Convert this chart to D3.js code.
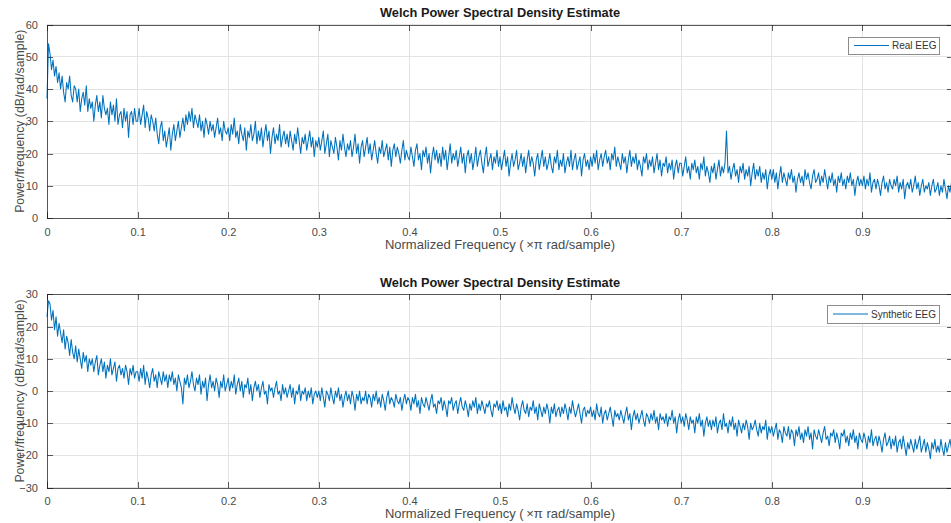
<!DOCTYPE html>
<html><head><meta charset="utf-8">
<script src="https://cdn.jsdelivr.net/npm/d3@7"></script>
<style>body{margin:0;background:#fff}svg{display:block;font-family:"Liberation Sans",Arial,sans-serif}</style>
</head><body>
<svg id="c" width="951" height="523"></svg>
<script>
const xTicks = [0, 0.1, 0.2, 0.3, 0.4, 0.5, 0.6, 0.7, 0.8, 0.9, 1];
const xTickLabels = ["0", "0.1", "0.2", "0.3", "0.4", "0.5", "0.6", "0.7", "0.8", "0.9", ""];
const yTicksReal = [0, 10, 20, 30, 40, 50, 60];
const yTicksSynth = [-30, -20, -10, 0, 10, 20, 30];
const titles = ["Welch Power Spectral Density Estimate", "Welch Power Spectral Density Estimate"];
const legendNames = ["Real EEG", "Synthetic EEG"];
const xLabel = "Normalized Frequency  (\u2009\u00d7\u03c0 rad/sample)";
const yLabel = "Power/frequency (dB/rad/sample)";

// PSD values (dB) sampled every 1/600 of normalized frequency
const realEEG = [
37,54,51,46,49,44,47,42,45,40, 44,39,36,42,40,44,38,36,41,40, 36,40,33,37,39,35,41,33,37,34, 36,30,35,38,33,36,31,38,34,32, 34,29,36,32,35,30,37,29,32,33, 28,34,30,33,25,32,33,29,34,30,
30,34,29,32,35,28,33,31,27,32, 30,27,31,26,23,28,30,24,27,22, 25,28,21,26,29,24,27,30,25,28, 31,27,32,29,33,30,34,28,32,30, 28,32,27,30,25,31,29,26,30,27, 29,25,28,31,26,28,24,30,27,26,
28,24,29,26,31,25,27,23,29,26, 24,28,21,27,25,29,24,26,30,23, 27,24,28,22,26,29,24,27,20,25, 28,23,26,24,29,22,25,27,23,26, 22,27,24,21,26,23,28,24,20,25, 23,26,21,24,27,22,25,19,24,22,
25,21,24,27,20,23,26,19,24,22, 20,25,22,18,24,21,26,22,19,23, 21,24,19,22,26,20,23,17,22,24, 19,22,25,20,23,18,21,24,20,17, 22,20,24,19,21,23,18,22,16,21, 23,19,22,20,17,21,24,18,21,19,
18,22,19,16,21,23,18,20,15,21, 19,22,17,20,14,19,22,18,21,17, 20,16,22,18,21,15,19,23,17,20, 18,21,16,19,22,17,20,14,19,21, 17,20,15,18,22,16,19,21,17,14, 19,22,16,18,20,15,19,17,21,16,
19,15,18,21,16,19,13,17,20,16, 18,21,15,17,20,16,19,14,18,21, 16,19,17,13,18,20,15,18,21,16, 19,15,17,20,16,14,19,17,21,15, 18,16,20,14,17,19,16,21,15,18, 20,15,17,19,13,18,20,16,18,15,
19,16,20,17,21,15,18,20,16,19, 21,17,19,15,20,18,22,16,19,17, 15,20,17,19,14,18,21,16,19,17, 20,15,18,16,13,19,17,20,15,18, 16,19,14,17,20,15,18,13,17,16, 19,14,17,15,18,12,16,18,14,17,
17,13,16,19,14,16,12,17,15,18, 14,16,12,17,15,19,13,16,14,11, 16,14,17,12,15,18,13,16,14,17, 27,14,16,12,15,17,13,15,11,16, 14,17,12,15,13,16,10,14,17,12, 15,13,16,11,14,12,15,9,13,15,
12,15,11,14,9,13,16,11,14,12, 10,14,12,15,11,13,8,12,14,11, 13,10,15,12,14,11,9,13,15,11, 12,14,10,13,11,15,12,9,13,11, 14,10,12,8,13,11,14,10,12,9, 13,11,14,10,12,7,11,13,10,12,
10,13,9,12,10,14,8,11,12,9, 12,10,7,11,13,9,11,8,12,10, 9,12,10,13,8,11,9,12,6,10, 11,9,12,8,10,13,9,11,7,10, 12,8,10,9,11,7,10,12,8,9, 11,7,10,8,12,9,6,10,8,11,9
];

const synthEEG = [
23,28,27,22,25,19,23,17,21,18, 15,19,13,17,15,11,16,12,10,14, 9,13,10,7,12,9,11,6,10,8, 10,6,9,11,5,8,10,6,9,4, 8,6,10,5,7,9,3,7,8,5, 7,4,8,6,2,7,5,8,4,6,
6,3,7,4,8,2,6,4,1,5, 7,3,5,1,6,4,2,6,3,5, 1,5,3,6,2,4,0,5,3,1, -4,4,2,5,1,3,6,2,0,4, 2,5,-1,3,1,4,-3,2,5,1, 3,0,4,2,-2,3,1,5,0,2,
4,0,3,1,5,-1,2,4,0,3, -2,2,1,4,-1,2,-3,1,3,0, 2,-2,1,3,-1,0,-4,2,0,1, -2,1,3,-1,0,-3,2,-1,1,-2, 0,2,-2,1,-4,0,-1,2,-3,0, -1,1,-3,0,-2,1,-4,-1,0,-2,
0,-3,1,-2,-5,0,-1,-3,1,-2, -4,0,-2,1,-3,-1,-5,-2,0,-3, -1,-4,0,-2,-6,-1,-3,0,-4,-2, -3,0,-4,-1,-2,-5,-1,-3,0,-4, -2,-5,-1,-3,-6,-2,0,-4,-2,-3, -5,-1,-3,-4,-2,-6,-3,-1,-4,-2,
-3,-6,-2,-4,-1,-5,-3,-7,-2,-4, -5,-2,-4,-6,-3,-1,-5,-4,-7,-3, -4,-2,-6,-3,-5,-8,-3,-4,-2,-6, -4,-3,-7,-4,-2,-5,-6,-3,-5,-8, -4,-6,-3,-5,-2,-7,-4,-6,-3,-5, -7,-4,-5,-3,-6,-8,-4,-5,-3,-6,
-4,-7,-3,-6,-5,-8,-4,-6,-2,-5, -7,-4,-6,-9,-5,-3,-6,-7,-4,-8, -5,-6,-3,-7,-5,-9,-4,-6,-8,-5, -7,-4,-6,-10,-5,-7,-4,-8,-6,-5, -8,-5,-7,-4,-6,-9,-5,-7,-3,-6, -8,-6,-4,-7,-10,-6,-5,-8,-6,-7,
-5,-8,-6,-9,-4,-7,-8,-5,-10,-7, -6,-9,-7,-5,-8,-11,-6,-8,-7,-9, -6,-8,-10,-7,-5,-9,-7,-12,-8,-6, -9,-7,-10,-8,-6,-9,-11,-7,-8,-10, -7,-9,-6,-10,-8,-12,-7,-9,-8,-10, -7,-11,-8,-9,-6,-10,-8,-13,-9,-7,
-10,-8,-11,-7,-9,-12,-8,-10,-9,-13, -8,-10,-7,-11,-9,-14,-10,-8,-11,-9, -12,-9,-11,-8,-13,-10,-9,-12,-7,-11, -10,-13,-9,-11,-8,-12,-10,-14,-9,-11, -13,-10,-12,-9,-11,-15,-10,-12,-11,-9, -12,-14,-10,-13,-11,-12,-9,-15,-11,-13,
-11,-14,-12,-10,-15,-12,-13,-16,-11,-13, -14,-11,-15,-12,-13,-17,-12,-14,-11,-15, -13,-16,-12,-14,-11,-15,-13,-18,-12,-14, -15,-12,-14,-16,-13,-11,-15,-14,-17,-13, -14,-12,-16,-13,-15,-18,-13,-14,-12,-16, -14,-17,-13,-15,-12,-16,-14,-18,-13,-15,
-16,-13,-15,-18,-14,-16,-12,-17,-15,-14, -17,-14,-16,-19,-15,-13,-17,-16,-14,-18, -15,-17,-14,-19,-16,-15,-18,-14,-17,-20, -16,-18,-15,-17,-19,-15,-18,-16,-14,-19, -17,-15,-19,-16,-18,-21,-16,-18,-15,-19, -17,-19,-15,-18,-20,-16,-19,-17,-15,-18,-17
];

const svg = d3.select("#c");
const blue = "#0072BD";
const axisCol = "#262626";
const textCol = "#4a4a4a";

function panel(data, yTicks, yDomain, top, bottom, title, legendName, legBox) {
  const x = d3.scaleLinear().domain([0, 1]).range([47, 953]);
  const y = d3.scaleLinear().domain(yDomain).range([bottom, top]);
  const g = svg.append("g");
  g.append("g").selectAll("line").data(xTicks).join("line")
    .attr("x1", d => x(d)).attr("x2", d => x(d)).attr("y1", top).attr("y2", bottom)
    .attr("stroke", "#e3e3e3").attr("stroke-width", 1).attr("shape-rendering", "crispEdges");
  g.append("g").selectAll("line").data(yTicks).join("line")
    .attr("x1", 47).attr("x2", 953).attr("y1", d => y(d)).attr("y2", d => y(d))
    .attr("stroke", "#e3e3e3").attr("stroke-width", 1).attr("shape-rendering", "crispEdges");
  const n = data.length;
  const line = d3.line().x((d, i) => x(i / (n - 1))).y(d => y(d));
  g.append("path").datum(data).attr("d", line).attr("fill", "none")
    .attr("stroke", blue).attr("stroke-width", 1.05).attr("stroke-linejoin", "round");
  const ax = d3.axisBottom(x).tickValues(xTicks).tickSize(-6).tickPadding(10).tickFormat((d, i) => xTickLabels[i]);
  const axG = g.append("g").attr("transform", `translate(0,${bottom})`).call(ax);
  const axT = g.append("g").attr("transform", `translate(0,${top})`).call(d3.axisTop(x).tickValues(xTicks).tickSize(-6).tickFormat(""));
  const ay = d3.axisLeft(y).tickValues(yTicks).tickSize(-6).tickPadding(9).tickFormat(d3.format("~g"));
  const ayG = g.append("g").attr("transform", `translate(47,0)`).call(ay);
  const ayR = g.append("g").attr("transform", `translate(953,0)`).call(d3.axisRight(y).tickValues(yTicks).tickSize(-6).tickFormat(""));
  [axG, axT, ayG, ayR].forEach(a => {
    a.selectAll("path.domain").attr("stroke", axisCol).attr("stroke-opacity", 0.75).attr("shape-rendering", "crispEdges");
    a.selectAll(".tick line").attr("stroke", axisCol).attr("stroke-opacity", 0.75).attr("shape-rendering", "crispEdges");
    a.selectAll("text").attr("fill", textCol).attr("font-size", 11).attr("font-family", "Liberation Sans, Arial, sans-serif");
  });
  g.append("text").attr("x", 500).attr("y", top - 7.5).attr("text-anchor", "middle")
    .attr("font-size", 12.8).attr("font-weight", "bold").attr("fill", "#1a1a1a").text(title);
  g.append("text").attr("x", 500).attr("y", bottom + 30.5).attr("text-anchor", "middle")
    .attr("font-size", 13).attr("fill", textCol).text(xLabel);
  g.append("text").attr("transform", `translate(24,${(top + bottom) / 2}) rotate(-90)`).attr("text-anchor", "middle")
    .attr("font-size", 12.3).attr("fill", textCol).text(yLabel);
  const lg = g.append("g");
  lg.append("rect").attr("x", legBox[0]).attr("y", legBox[1]).attr("width", legBox[2] - legBox[0]).attr("height", legBox[3] - legBox[1])
    .attr("fill", "#fff").attr("stroke", "#8c8c8c").attr("stroke-width", 1).attr("shape-rendering", "crispEdges");
  const my = (legBox[1] + legBox[3]) / 2;
  lg.append("line").attr("x1", legBox[0] + 6).attr("x2", legBox[0] + 41).attr("y1", my).attr("y2", my)
    .attr("stroke", blue).attr("stroke-width", 1);
  lg.append("text").attr("x", legBox[0] + 44).attr("y", my + 3.5).attr("font-size", 10).attr("fill", "#333").text(legendName);
}

panel(realEEG, yTicksReal, [0, 60], 24.5, 218, titles[0], legendNames[0], [848, 37, 939, 54]);
panel(synthEEG, yTicksSynth, [-30, 30], 294.3, 487.7, titles[1], legendNames[1], [827, 305, 939, 323]);
</script>
</body></html>
